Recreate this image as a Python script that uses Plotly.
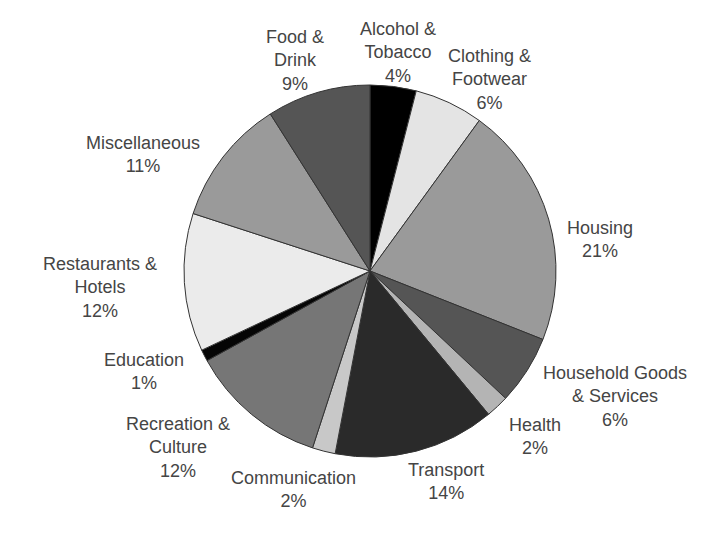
import plotly.graph_objects as go

categories = ["Alcohol &<br>Tobacco", "Clothing &<br>Footwear", "Housing", "Household Goods<br>& Services",
              "Health", "Transport", "Communication", "Recreation &<br>Culture", "Education",
              "Restaurants &<br>Hotels", "Miscellaneous", "Food &<br>Drink"]
values = [4, 6, 21, 6, 2, 14, 2, 12, 1, 12, 11, 9]
colors = ["#000000", "#e4e4e4", "#9a9a9a", "#555555", "#b4b4b4", "#2a2a2a",
          "#c8c8c8", "#767676", "#050505", "#ebebeb", "#9a9a9a", "#555555"]

# label block centres in screen pixels (layout only)
label_px = [(398, 52), (490, 80), (600, 240), (615, 396), (535, 436), (446, 481),
            (293, 489), (178, 447), (144, 371), (100, 287), (143, 154), (295, 61)]

W, H = 720, 540
OFF = 8  # page body margin
fig = go.Figure(go.Pie(
    labels=categories, values=values, sort=False, direction="clockwise", rotation=0,
    marker=dict(colors=colors, line=dict(color="#333333", width=1)),
    textinfo="none", hoverinfo="label+percent", showlegend=False,
    domain=dict(x=[(184 - OFF) / W, (556 - OFF) / W], y=[1 - (457 - OFF) / H, 1 - (85 - OFF) / H]),
))

total = sum(values)
for name, v, (px, py) in zip(categories, values, label_px):
    fig.add_annotation(x=(px - OFF) / W, y=1 - (py - OFF) / H, xref="paper", yref="paper",
                       text=f"{name}<br>{round(100 * v / total)}%", showarrow=False,
                       xanchor="center", yanchor="middle", align="center",
                       font=dict(family="Liberation Sans, Arial, sans-serif", size=18, color="#454545"))

fig.update_layout(width=W, height=H, margin=dict(l=0, r=0, t=0, b=0),
                  paper_bgcolor="white", plot_bgcolor="white")
fig.write_html("out.html")
